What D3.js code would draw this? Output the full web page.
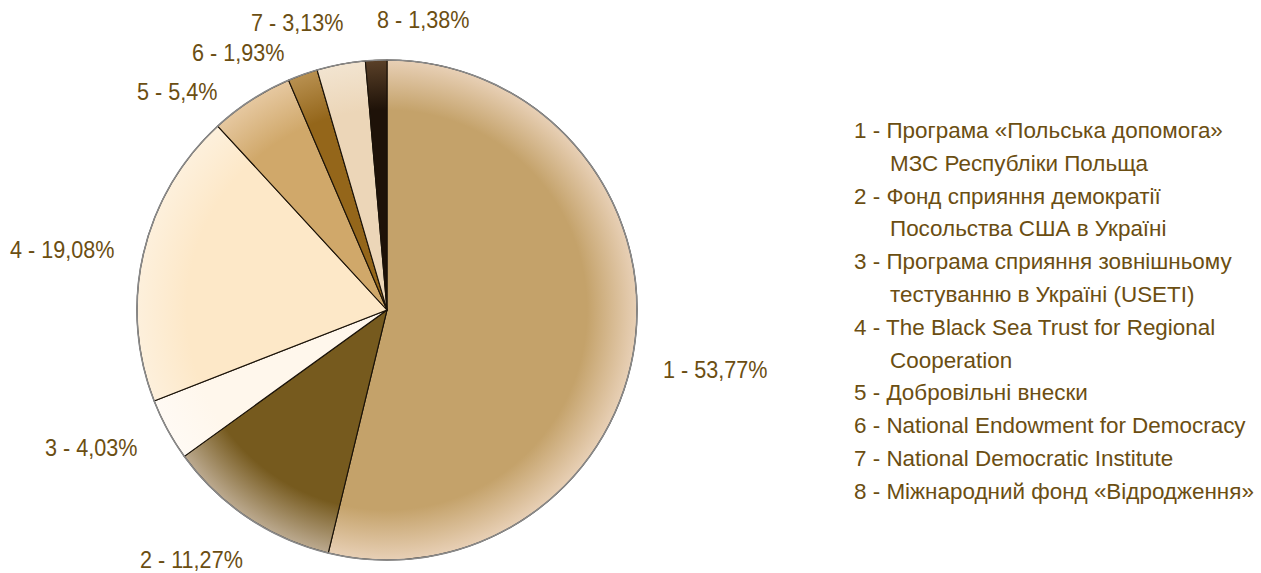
<!DOCTYPE html>
<html><head><meta charset="utf-8">
<script src="https://cdn.jsdelivr.net/npm/d3@7"></script>
<style>
html,body{margin:0;padding:0;background:#fff;}
svg{display:block;}
text{font-family:"Liberation Sans",Arial,sans-serif;fill:#6b4e12;}
</style></head>
<body>
<svg id="chart" width="1261" height="573"></svg>
<script>
const categories = ["1","2","3","4","5","6","7","8"];
const values = [53.77, 11.27, 4.03, 19.08, 5.4, 1.93, 3.13, 1.38];
const valueLabels = ["53,77%","11,27%","4,03%","19,08%","5,4%","1,93%","3,13%","1,38%"];
const legendLines = [
  ["1 - Програма «Польська допомога»", "МЗС Республіки Польща"],
  ["2 - Фонд сприяння демократії", "Посольства США в Україні"],
  ["3 - Програма сприяння зовнішньому", "тестуванню в Україні (USETI)"],
  ["4 - The Black Sea Trust for Regional", "Cooperation"],
  ["5 - Добровільні внески"],
  ["6 - National Endowment for Democracy"],
  ["7 - National Democratic Institute"],
  ["8 - Міжнародний фонд «Відродження»"]
];

// styles / layout
const baseColors = ["#c4a26a","#765a1e","#fff7ec","#fde8c8","#d0a86a","#94661a","#ecd6b8","#1e1208"];
const edgeColors = ["#e8d0b6","#bcaa90","#fffaf4","#fdf0dc","#e6c8a0","#b89050","#f2e4d0","#5a4028"];
const cx = 387, cy = 310, R = 250;
// label anchor points (left x, baseline y)
const labelPos = [[663,378],[140,568],[45,456],[10,258],[137,100],[192,61],[251,31],[377,28]];
const sx = 0.9;

const svg = d3.select("#chart");
const defs = svg.append("defs");
categories.forEach((c,i)=>{
  const g = defs.append("radialGradient").attr("id","g"+i)
    .attr("gradientUnits","userSpaceOnUse").attr("cx",0).attr("cy",0).attr("r",R);
  g.append("stop").attr("offset","0").attr("stop-color",baseColors[i]);
  g.append("stop").attr("offset","0.8").attr("stop-color",baseColors[i]);
  g.append("stop").attr("offset","1").attr("stop-color",edgeColors[i]);
});

const pie = d3.pie().sort(null).value(d=>d)(values);
const arc = d3.arc().innerRadius(0).outerRadius(R);
const gp = svg.append("g").attr("transform",`translate(${cx},${cy})`);
gp.selectAll("path.slice").data(pie).join("path").attr("class","slice")
  .attr("d",arc).attr("fill",(d,i)=>`url(#g${i})`)
  .attr("stroke","#1a1208").attr("stroke-width",1.1).attr("stroke-linejoin","round");
gp.append("circle").attr("r",R).attr("fill","none").attr("stroke","#8a8a8a").attr("stroke-width",1.6);

// slice labels
const lg = svg.append("g");
pie.forEach((d,i)=>{
  lg.append("text")
    .attr("transform",`translate(${labelPos[i][0]},${labelPos[i][1]}) scale(${sx},1)`)
    .attr("font-size",24)
    .text(`${categories[i]} - ${valueLabels[i]}`);
});

// legend
const leg = svg.append("g");
let line = 0;
const lx = 854, ly0 = 138, lstep = 32.8, lsx = 1.02;
legendLines.forEach((ls,i)=>{
  ls.forEach((t,j)=>{
    leg.append("text")
      .attr("transform",`translate(${j===0?lx:lx+36},${ly0+line*lstep}) scale(${lsx},1)`)
      .attr("font-size",22)
      .text(t);
    line++;
  });
});
</script>
</body></html>
